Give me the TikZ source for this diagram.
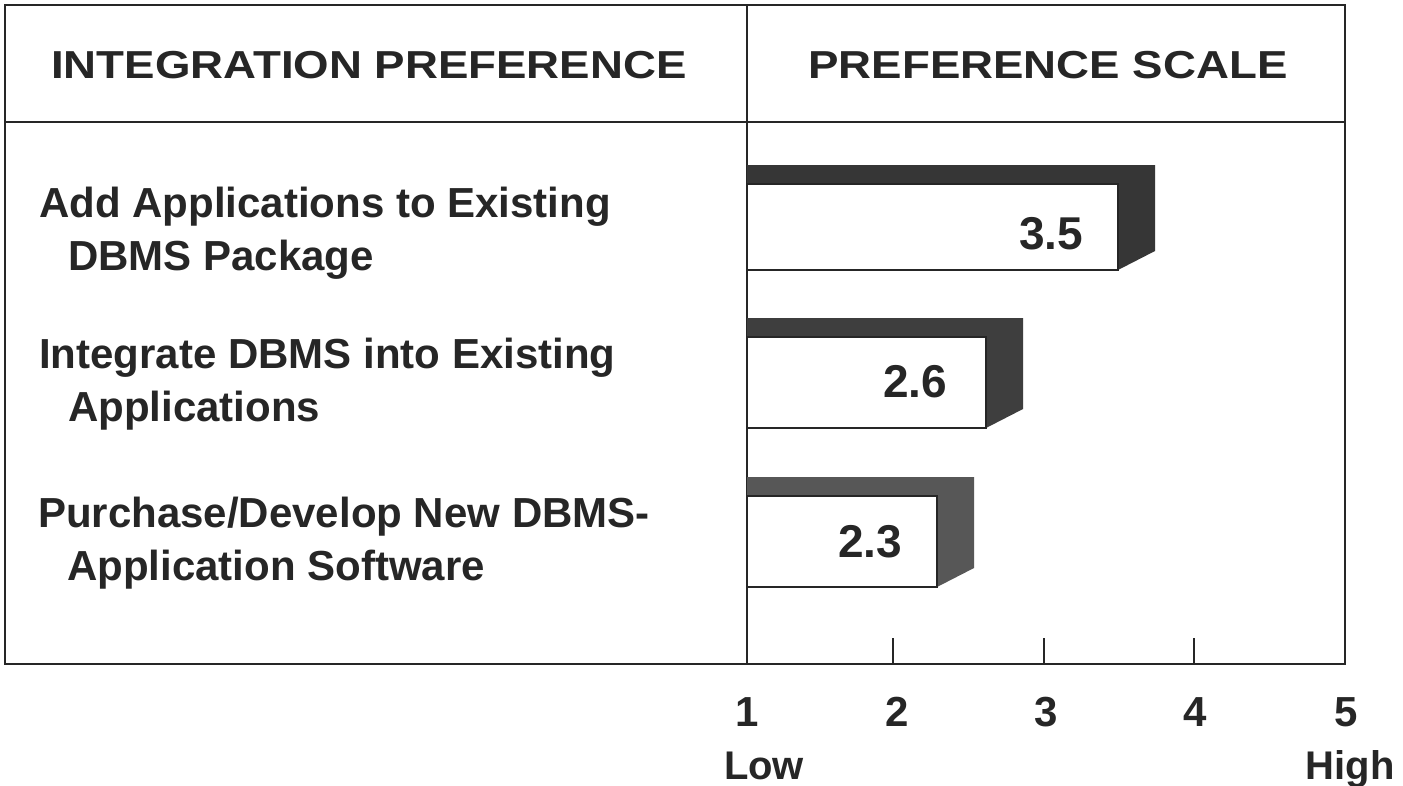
\documentclass[tikz,border=0pt]{standalone}
\usepackage{fontspec}
\setmainfont{Liberation Sans}
\newfontfamily\hdrfont[FakeStretch=1.17]{Liberation Sans}
\definecolor{ink}{HTML}{262626}
\definecolor{shade1}{HTML}{363636}
\definecolor{shade2}{HTML}{3E3E3E}
\definecolor{shade3}{HTML}{575757}
\tikzset{
  frame/.style={draw=ink, line width=2.6pt},
  divider/.style={draw=ink, line width=1.8pt},
  tick/.style={draw=ink, line width=1.8pt},
  front/.style={draw=ink, line width=1.8pt, fill=white},
  hdr/.style={text=ink, font=\hdrfont\bfseries\fontsize{39}{44}\selectfont, inner sep=0pt},
  lbl/.style={text=ink, font=\bfseries\fontsize{42}{50}\selectfont, inner sep=0pt, anchor=base west},
  val/.style={text=ink, font=\bfseries\fontsize{46}{52}\selectfont, inner sep=0pt},
  axl/.style={text=ink, font=\bfseries\fontsize{42}{48}\selectfont, inner sep=0pt},
  axw/.style={text=ink, font=\bfseries\fontsize{40}{46}\selectfont, inner sep=0pt, anchor=base}
}
\begin{document}
\begin{tikzpicture}[x=1pt,y=-1pt]
\useasboundingbox (0,0) rectangle (1403,785);
\fill[white] (0,0) rectangle (1403,785);
% frame
\draw[frame] (5,5) rectangle (1345,664);
\draw[frame] (5,122) -- (1345,122);
\draw[divider] (747,5) -- (747,664);
% headers
\node[hdr] (h1) at (369,65) {INTEGRATION PREFERENCE};
\node[hdr] (h2) at (1048,65) {PREFERENCE SCALE};
% bar 1
\fill[shade1] (747,165) -- (1155,165) -- (1155,251) -- (1118,270) -- (1118,184) -- (747,184) -- cycle;
\draw[front] (747,184) rectangle (1118,270);
\node[val] (v1) at (1051,234) {3.5};
% bar 2
\fill[shade2] (747,318) -- (1023,318) -- (1023,409) -- (986,428) -- (986,337) -- (747,337) -- cycle;
\draw[front] (747,337) rectangle (986,428);
\node[val] (v2) at (915,382) {2.6};
% bar 3
\fill[shade3] (747,477) -- (974,477) -- (974,568) -- (937,587) -- (937,496) -- (747,496) -- cycle;
\draw[front] (747,496) rectangle (937,587);
\node[val] (v3) at (870,542) {2.3};
% labels
\node[lbl] (l1a) at (39,217) {Add Applications to Existing};
\node[lbl] (l1b) at (68,270) {DBMS Package};
\node[lbl] (l2a) at (39,368) {Integrate DBMS into Existing};
\node[lbl] (l2b) at (68,421) {Applications};
\node[lbl] (l3a) at (38,527) {Purchase/Develop New DBMS-};
\node[lbl] (l3b) at (67,580) {Application Software};
% ticks
\coordinate (t2a) at (893,638); \coordinate (t2b) at (893,664);
\coordinate (t3a) at (1044,638); \coordinate (t3b) at (1044,664);
\coordinate (t4a) at (1194,638); \coordinate (t4b) at (1194,664);
\draw[tick] (t2a) -- (t2b);
\draw[tick] (t3a) -- (t3b);
\draw[tick] (t4a) -- (t4b);
% axis numbers
\node[axl] (n1) at (747,712) {1};
\node[axl] (n2) at (897,712) {2};
\node[axl] (n3) at (1046,712) {3};
\node[axl] (n4) at (1195,712) {4};
\node[axl] (n5) at (1346,712) {5};
\node[axw] (low) at (764,779) {Low};
\node[axw] (high) at (1350,779) {High};
\end{tikzpicture}
\end{document}
